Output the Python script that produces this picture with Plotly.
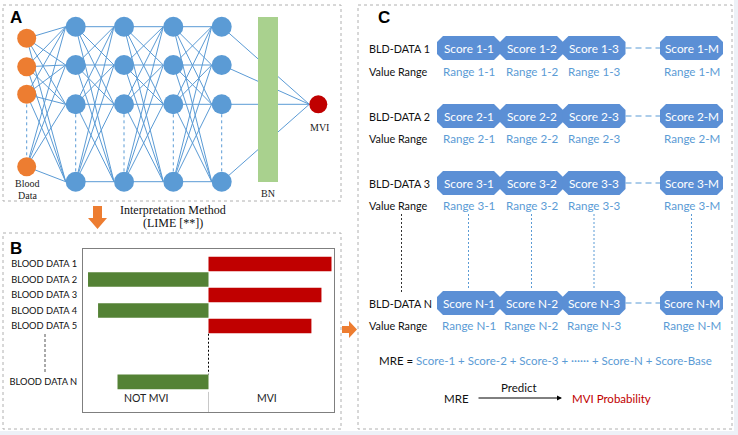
import plotly.graph_objects as go

# ---------------- data ----------------
blood_labels = ["BLOOD DATA 1", "BLOOD DATA 2", "BLOOD DATA 3", "BLOOD DATA 4", "BLOOD DATA 5", "BLOOD DATA N"]
lime_weights = [0.98, -0.96, 0.90, -0.88, 0.82, -0.725]
row_index = [0, 1, 2, 3, 4, 7.6]
class_labels = ["NOT MVI", "MVI"]

score_rows = ["1", "2", "3", "N"]
score_cols = ["1", "2", "3", "M"]
row_names = ["BLD-DATA 1", "BLD-DATA 2", "BLD-DATA 3", "BLD-DATA N"]

n_input_shown = 4
n_hidden_shown = 4
n_hidden_layers = 4

# ---------------- layout constants (pixels) ----------------
W, H = 738, 435
FONT_SANS = "Lato"
FONT_SERIF = "Liberation Serif"
BLUE = "#5b9bd5"
BOXBLUE = "#5b8fd5"
ORANGE = "#ed7d31"
DRED = "#c00000"
GREEN = "#548235"

in_x = 26.7
in_y = [38.3, 66.7, 94.3, 166.7]
hid_x = [75.7, 124, 173.3, 221.7]
hid_y = [26.7, 65, 104.3, 181.7]
out_xy = (318.3, 104.3)

fig = go.Figure()

shapes = []
annotations = []

# background
shapes.append(dict(type="rect", xref="x", yref="y", x0=0, y0=0, x1=734, y1=431,
                   fillcolor="white", line=dict(width=0), layer="below"))

# dotted panel borders
for (x0, y0, x1, y1) in [(3, 5, 341, 201), (3, 233, 341, 429), (358, 5, 732, 429)]:
    shapes.append(dict(type="rect", xref="x", yref="y", x0=x0, y0=y0, x1=x1, y1=y1,
                       line=dict(color="#b0b0b0", width=1, dash="dot"), layer="below"))

# ---------------- Panel A: network ----------------
ex, ey = [], []
layers = [[(in_x, y) for y in in_y]] + [[(hx, y) for y in hid_y] for hx in hid_x]
for a, b in zip(layers[:-1], layers[1:]):
    for p in a:
        for q in b:
            ex += [p[0], q[0] - 10, None]
            ey += [p[1], q[1], None]
for p in layers[-1]:
    ex += [p[0], out_xy[0] - 9, None]
    ey += [p[1], out_xy[1], None]
fig.add_trace(go.Scatter(x=ex, y=ey, mode="lines", line=dict(color=BLUE, width=1),
                         hoverinfo="skip", showlegend=False))

# dashed between 3rd and last node per column
for lx, ys in [(in_x, in_y)] + [(hx, hid_y) for hx in hid_x]:
    shapes.append(dict(type="line", xref="x", yref="y", x0=lx, x1=lx, y0=ys[2] + 10, y1=ys[3] - 10,
                       line=dict(color=BLUE, width=1, dash="3px,3px")))

# BN bar
fig.add_trace(go.Scatter(x=[258, 278, 278, 258, 258], y=[17, 17, 182, 182, 17], mode="lines",
                         fill="toself", fillcolor="#a9d18e", line=dict(width=0),
                         hoverinfo="skip", showlegend=False))

# nodes
fig.add_trace(go.Scatter(x=[in_x] * n_input_shown, y=in_y, mode="markers",
                         marker=dict(size=19, color=ORANGE, line=dict(width=0)),
                         hoverinfo="skip", showlegend=False))
hx_all, hy_all = [], []
for hx in hid_x:
    for hy in hid_y:
        hx_all.append(hx)
        hy_all.append(hy)
fig.add_trace(go.Scatter(x=hx_all, y=hy_all, mode="markers",
                         marker=dict(size=20, color=BLUE, line=dict(width=0)),
                         hoverinfo="skip", showlegend=False))
fig.add_trace(go.Scatter(x=[out_xy[0]], y=[out_xy[1]], mode="markers",
                         marker=dict(size=18, color=DRED, line=dict(width=0)),
                         hoverinfo="skip", showlegend=False))


def txt(x, y, s, size=11, color="black", family=FONT_SANS, xanchor="center", bold=False):
    if bold:
        s = "<b>" + s + "</b>"
    annotations.append(dict(x=x, y=y, xref="x", yref="y", text=s, showarrow=False,
                            font=dict(size=size, color=color, family=family),
                            xanchor=xanchor, yanchor="middle"))


txt(16, 17, "A", size=17, family="Liberation Sans", bold=True)
txt(16, 248, "B", size=17, family="Liberation Sans", bold=True)
txt(384, 17, "C", size=17, family="Liberation Sans", bold=True)

txt(27, 183, "Blood", size=10, family=FONT_SERIF, color="#222222")
txt(27, 195, "Data", size=10, family=FONT_SERIF, color="#222222")
txt(319, 127, "MVI", size=10, family=FONT_SERIF, color="#222222")
txt(268, 193, "BN", size=10, family=FONT_SERIF, color="#222222")
txt(173, 210, "Interpretation Method", size=12, family=FONT_SERIF, color="#111111")
txt(173, 223, "(LIME [**])", size=12, family=FONT_SERIF, color="#111111")

# orange arrows
fig.add_trace(go.Scatter(x=[93, 102, 102, 107, 97.5, 88, 93, 93],
                         y=[206, 206, 218, 218, 229, 218, 218, 206], mode="lines",
                         fill="toself", fillcolor=ORANGE, line=dict(width=0),
                         hoverinfo="skip", showlegend=False))
fig.add_trace(go.Scatter(x=[342, 349, 349, 357, 349, 349, 342, 342],
                         y=[326, 326, 321, 329.5, 338, 333, 333, 326], mode="lines",
                         fill="toself", fillcolor=ORANGE, line=dict(width=0),
                         hoverinfo="skip", showlegend=False))

# ---------------- Panel B: LIME bar chart ----------------
bar_colors = [DRED if v > 0 else GREEN for v in lime_weights]
fig.add_trace(go.Bar(x=lime_weights, y=row_index, orientation="h", width=0.95,
                     marker=dict(color=bar_colors, line=dict(width=0)),
                     xaxis="x2", yaxis="y2", hoverinfo="skip", showlegend=False))

B_top, B_bot, row0, rowstep = 249, 412, 264, 15.5
rmin = (B_bot - row0) / rowstep
rmax = (B_top - row0) / rowstep

shapes.append(dict(type="line", xref="x2", yref="y2", x0=0, x1=0, y0=4.5, y1=7.12,
                   line=dict(color="black", width=1, dash="2px,2px")))
shapes.append(dict(type="line", xref="x2", yref="y2", x0=0, x1=0, y0=8.25, y1=rmin,
                   line=dict(color="#c8c8c8", width=1)))
shapes.append(dict(type="line", xref="x", yref="y", x0=45, x1=45, y0=334, y1=373,
                   line=dict(color="#555555", width=1, dash="3px,2px")))
annotations.append(dict(x=-0.5, y=8.65, xref="x2", yref="y2", text=class_labels[0], showarrow=False,
                        font=dict(size=10.5, family=FONT_SANS, color="#222222")))
annotations.append(dict(x=0.47, y=8.65, xref="x2", yref="y2", text=class_labels[1], showarrow=False,
                        font=dict(size=10.5, family=FONT_SANS, color="#222222")))

# ---------------- Panel C: scorecards ----------------
col_cx = [468.5, 531.5, 594, 691.5]
row_cy = [48, 116, 183, 303]
range_cy = [71, 138, 205, 325]
bw, bh, cut = 63, 24, 6

for ri, (rname, rr) in enumerate(zip(row_names, score_rows)):
    cy = row_cy[ri]
    txt(367, cy, rname, size=10.8, xanchor="left", color="#111111")
    txt(367, range_cy[ri], "Value Range", size=10.8, xanchor="left", color="#111111")
    for ci, cc in enumerate(score_cols):
        cx = col_cx[ci]
        x0, x1 = cx - bw / 2, cx + bw / 2
        y0, y1 = cy - bh / 2, cy + bh / 2
        path = (f"M{x0+cut},{y0} L{x1-cut},{y0} L{x1},{y0+cut} L{x1},{y1-cut} "
                f"L{x1-cut},{y1} L{x0+cut},{y1} L{x0},{y1-cut} L{x0},{y0+cut} Z")
        shapes.append(dict(type="path", xref="x", yref="y", path=path,
                           fillcolor=BOXBLUE, line=dict(width=0)))
        txt(cx, cy, f"Score {rr}-{cc}", size=11.8, color="white")
        txt(cx, range_cy[ri], f"Range {rr}-{cc}", size=11.6, color=BLUE)
    shapes.append(dict(type="line", xref="x", yref="y", x0=col_cx[2] + bw / 2, x1=col_cx[3] - bw / 2,
                       y0=cy, y1=cy, line=dict(color=BLUE, width=1, dash="6px,4px")))

shapes.append(dict(type="line", xref="x", yref="y", x0=401.5, x1=401.5, y0=214, y1=292,
                   line=dict(color="#333333", width=1, dash="2px,2px")))
for cx in col_cx:
    shapes.append(dict(type="line", xref="x", yref="y", x0=cx, x1=cx, y0=214, y1=289,
                       line=dict(color=BLUE, width=1, dash="2px,2px")))

mre_rhs = "Score-1 + Score-2 + Score-3 + ······ + Score-N + Score-Base"
annotations.append(dict(x=545, y=360, xref="x", yref="y", showarrow=False,
                        text=f"<span style='color:#111111'>MRE = </span>{mre_rhs}",
                        font=dict(size=11.5, family=FONT_SANS, color=BLUE)))

txt(456, 398, "MRE", size=11.5, color="#111111")
txt(519, 387, "Predict", size=11.5, color="#111111")
txt(611, 398, "MVI Probability", size=11.5, color=DRED)
annotations.append(dict(x=562, y=398, ax=477, ay=398, xref="x", yref="y", axref="x", ayref="y",
                        text="", showarrow=True, arrowhead=2, arrowsize=1, arrowwidth=1,
                        arrowcolor="black"))

fig.update_layout(
    width=W, height=H,
    margin=dict(l=0, r=0, t=0, b=0, autoexpand=False),
    paper_bgcolor="#edf1f7",
    plot_bgcolor="rgba(0,0,0,0)",
    shapes=shapes,
    annotations=annotations,
    xaxis=dict(range=[0, W], domain=[0, 1], visible=False, fixedrange=True, automargin=False),
    yaxis=dict(range=[H, 0], domain=[0, 1], visible=False, fixedrange=True, automargin=False),
    xaxis2=dict(range=[-1, 1], domain=[83 / W, 334 / W], anchor="y2", automargin=False,
                showgrid=False, zeroline=False, showticklabels=False, ticks="",
                showline=True, mirror=True, linecolor="#7f7f7f", linewidth=1, fixedrange=True),
    yaxis2=dict(range=[rmin, rmax], domain=[1 - B_bot / H, 1 - B_top / H], anchor="x2",
                automargin=False,
                tickvals=row_index, ticktext=blood_labels, ticks="",
                tickfont=dict(size=9.3, family=FONT_SANS, color="#111111"),
                showgrid=False, zeroline=False, ticklabelstandoff=3,
                showline=True, mirror=True, linecolor="#7f7f7f", linewidth=1, fixedrange=True),
    showlegend=False,
)

fig.write_html("out.html", config={"displayModeBar": False},
               post_script="document.body.style.margin='0';document.body.style.overflow='hidden';")
